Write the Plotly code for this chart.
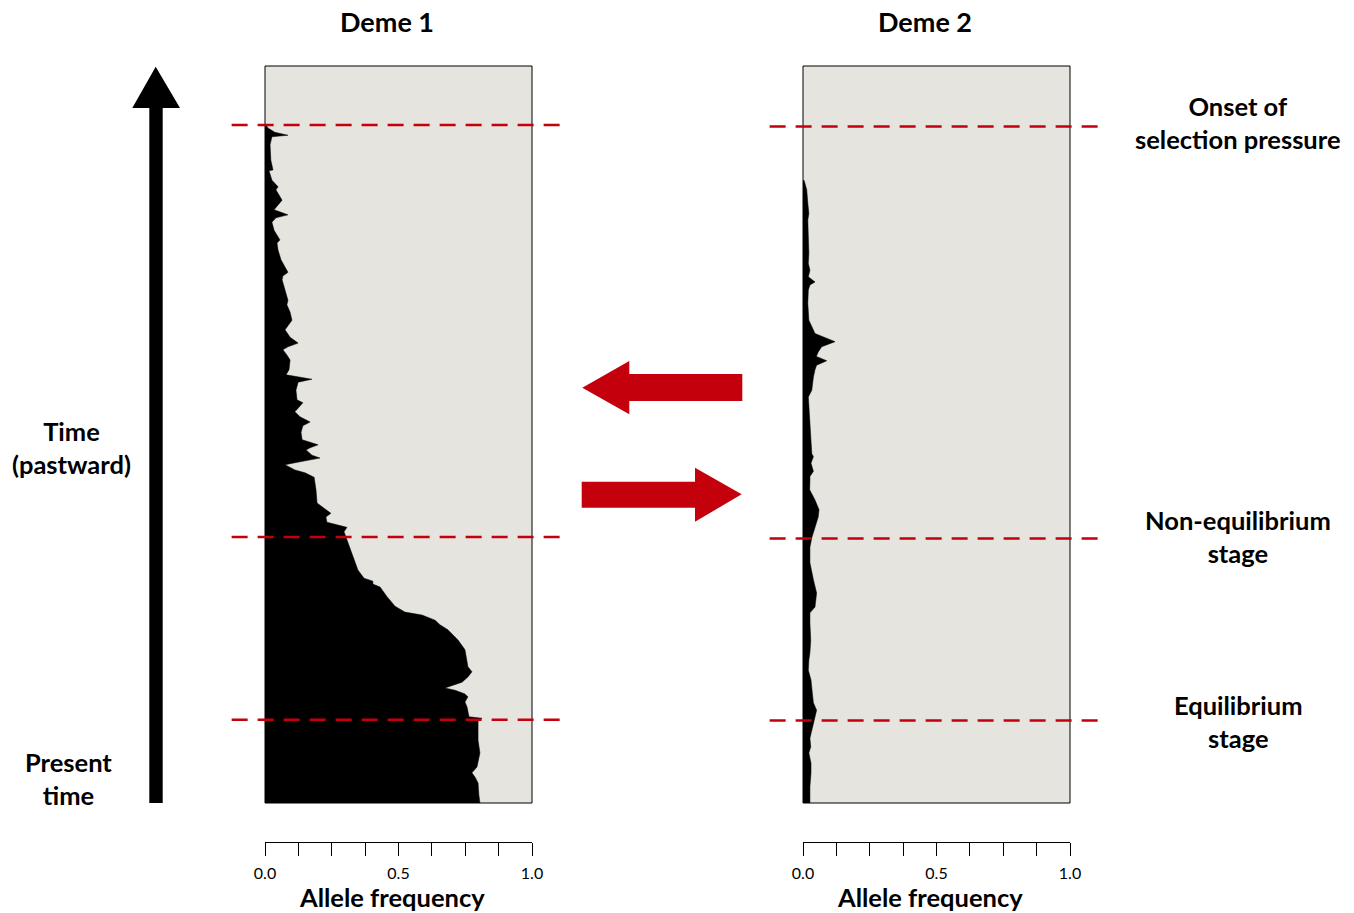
import plotly.graph_objects as go

# ---------------- data (time: 0 = present, 100 = top of panel; frequency 0..1) -------------
deme1_time = [92.0, 91.6, 91.0, 90.6, 90.4, 89.3, 87.2, 85.9, 85.8, 84.5, 83.6, 83.2, 81.8,
              80.7, 80.5, 79.8, 79.4, 78.8, 77.7, 76.4, 76.0, 75.0, 73.7, 72.0, 71.5, 71.0,
              69.6, 68.2, 67.6, 66.6, 65.5, 64.9, 64.2, 63.2, 62.4, 61.9, 61.5, 60.8, 60.1,
              58.8, 58.1, 57.5, 57.1, 56.0, 54.7, 54.3, 53.6, 53.1, 52.4, 51.7, 51.2, 50.3,
              49.3, 48.6, 48.2, 47.9, 47.2, 46.8, 46.3, 45.9, 45.2, 44.8, 44.2, 42.5, 40.7,
              40.2, 39.3, 38.8, 38.1, 37.4, 36.8, 35.3, 33.4, 31.6, 30.5, 30.1, 29.7, 29.3,
              28.0, 26.7, 25.9, 25.5, 24.8, 24.2, 23.5, 22.1, 20.8, 19.4, 18.5, 17.8, 17.1,
              16.4, 15.6, 15.3, 14.8, 14.4, 13.7, 13.0, 11.7, 11.5, 11.1, 8.5, 6.8, 4.9,
              4.1, 3.5, 2.7, 1.1, 0.0]
deme1_freq = [0.004, 0.011, 0.037, 0.086, 0.026, 0.019, 0.022, 0.030, 0.015, 0.026, 0.049, 0.041, 0.064,
              0.037, 0.034, 0.086, 0.041, 0.026, 0.034, 0.056, 0.045, 0.049, 0.060, 0.086, 0.067, 0.064,
              0.075, 0.086, 0.082, 0.094, 0.101, 0.090, 0.075, 0.094, 0.124, 0.086, 0.067, 0.082, 0.094,
              0.090, 0.079, 0.176, 0.124, 0.116, 0.120, 0.142, 0.124, 0.112, 0.131, 0.169, 0.142, 0.135,
              0.139, 0.199, 0.169, 0.154, 0.176, 0.206, 0.131, 0.075, 0.112, 0.150, 0.184, 0.191, 0.195,
              0.213, 0.247, 0.228, 0.232, 0.307, 0.296, 0.311, 0.330, 0.348, 0.371, 0.404, 0.404, 0.431,
              0.457, 0.487, 0.524, 0.588, 0.637, 0.655, 0.685, 0.723, 0.749, 0.757, 0.760, 0.775, 0.760,
              0.738, 0.674, 0.712, 0.749, 0.760, 0.749, 0.757, 0.764, 0.813, 0.798, 0.798, 0.805, 0.794,
              0.775, 0.787, 0.798, 0.801, 0.805]

deme2_time = [84.5, 83.2, 81.4, 80.0, 79.1, 76.8, 74.6, 73.2, 72.3, 71.4, 70.7, 70.3, 69.6,
              67.8, 65.5, 63.7, 62.6, 61.9, 61.2, 60.6, 60.0, 59.4, 58.8, 57.8, 56.0, 55.1,
              52.0, 49.7, 47.4, 47.0, 46.1, 45.0, 44.3, 43.8, 42.5, 41.1, 39.8, 38.8, 37.4,
              36.0, 34.7, 32.6, 30.3, 28.5, 26.6, 25.8, 24.4, 22.1, 20.4, 19.4, 18.0, 16.7,
              14.9, 13.6, 12.6, 11.3, 10.3, 9.5, 8.8, 7.6, 6.8, 5.4, 4.1, 2.2, 0.0]
deme2_freq = [0.004, 0.014, 0.018, 0.022, 0.018, 0.020, 0.022, 0.020, 0.026, 0.020, 0.045, 0.026, 0.020,
              0.018, 0.022, 0.045, 0.120, 0.070, 0.057, 0.050, 0.089, 0.051, 0.045, 0.039, 0.033, 0.020,
              0.026, 0.029, 0.033, 0.039, 0.030, 0.039, 0.026, 0.026, 0.025, 0.045, 0.060, 0.057, 0.045,
              0.033, 0.026, 0.026, 0.039, 0.051, 0.045, 0.026, 0.026, 0.029, 0.026, 0.022, 0.020, 0.030,
              0.035, 0.039, 0.051, 0.042, 0.035, 0.030, 0.026, 0.029, 0.022, 0.030, 0.030, 0.026, 0.026]

deme_names = ["Deme 1", "Deme 2"]
stage_labels = ["Onset of<br>selection pressure", "Non-equilibrium<br>stage", "Equilibrium<br>stage"]
stage_times_deme1 = [92.0, 36.1, 11.3]
stage_times_deme2 = [91.8, 35.9, 11.2]
tick_vals = [0, 0.125, 0.25, 0.375, 0.5, 0.625, 0.75, 0.875, 1.0]
tick_text = ["0.0", "", "", "", "0.5", "", "", "", "1.0"]

# ---------------- layout helpers (page pixels -> paper) ----------------
W, H = 1354, 913
OX, OY = 0, 0


def px(x):
    return (x - OX) / W


def py(y):
    return 1 - (y - OY) / H


FONT = "Lato"
BG = "#e5e4df"
RED = "#c4000c"

fig = go.Figure()

fig.add_trace(go.Scatter(x=deme1_freq, y=deme1_time, mode="lines", fill="tozerox",
                         fillcolor="black", line=dict(color="black", width=0.5),
                         xaxis="x", yaxis="y", showlegend=False, hoverinfo="skip"))
fig.add_trace(go.Scatter(x=deme2_freq, y=deme2_time, mode="lines", fill="tozerox",
                         fillcolor="black", line=dict(color="black", width=0.5),
                         xaxis="x2", yaxis="y2", showlegend=False, hoverinfo="skip"))

panel_x = [(265, 532), (803, 1070)]
ydom = [py(803), py(66)]
axis_pos = py(842)

xcommon = dict(range=[0, 1], anchor="free", position=axis_pos, showline=True, linecolor="black",
               linewidth=1, ticks="outside", ticklen=13, tickwidth=1, tickcolor="black",
               tickvals=tick_vals, ticktext=tick_text, showgrid=False, zeroline=False,
               ticklabelstandoff=4,
               tickfont=dict(family=FONT, size=16, color="black"), automargin=False, fixedrange=True)
ycommon = dict(range=[0, 100], visible=False, showgrid=False, zeroline=False, fixedrange=True)

fig.update_layout(
    xaxis=dict(domain=[px(panel_x[0][0]), px(panel_x[0][1])], **xcommon),
    xaxis2=dict(domain=[px(panel_x[1][0]), px(panel_x[1][1])], **xcommon),
    yaxis=dict(domain=ydom, anchor="x", **ycommon),
    yaxis2=dict(domain=ydom, anchor="x2", **ycommon),
)

shapes = []
annotations = []
for i, (xa, ya) in enumerate([("x", "y"), ("x2", "y2")]):
    # panel border
    shapes.append(dict(type="rect", xref=f"{xa} domain", yref=f"{ya} domain", x0=0, x1=1, y0=0, y1=1,
                       line=dict(color="black", width=1), fillcolor="rgba(0,0,0,0)", layer="above"))
    times = stage_times_deme1 if i == 0 else stage_times_deme2
    for t in times:
        shapes.append(dict(type="line", xref=f"{xa} domain", yref=ya, x0=-0.125, x1=1.13, y0=t, y1=t,
                           line=dict(color=RED, width=2.5, dash="16px,10px"), layer="above"))
    cx = (panel_x[i][0] + panel_x[i][1]) / 2
    annotations.append(dict(text=f"<b>{deme_names[i]}</b>", xref="paper", yref="paper",
                            x=px(cx - 12), y=py(22), showarrow=False, xanchor="center", yanchor="middle",
                            font=dict(family=FONT, size=27, color="black")))
    annotations.append(dict(text="<b>Allele frequency</b>", xref="paper", yref="paper",
                            x=px(cx - 7), y=py(897), showarrow=False, xanchor="center", yanchor="middle",
                            font=dict(family=FONT, size=25.5, color="black")))

# big black time arrow
big = [(149.3, 803), (162.7, 803), (162.7, 108), (180, 108), (155.7, 66.7), (132.3, 108), (149.3, 108)]
# red migration arrows
left_arrow = [(742.3, 374), (629.3, 374), (629.3, 361), (582.3, 387.7), (629.3, 414.3), (629.3, 401), (742.3, 401)]
right_arrow = [(581.7, 481.7), (695, 481.7), (695, 467.7), (741.7, 494.3), (695, 521.7), (695, 507.7), (581.7, 507.7)]


def path(pts):
    return "M " + " L ".join(f"{px(x):.5f},{py(y):.5f}" for x, y in pts) + " Z"


shapes.append(dict(type="path", xref="paper", yref="paper", path=path(big), fillcolor="black",
                   line=dict(width=0)))
for arr in (left_arrow, right_arrow):
    shapes.append(dict(type="path", xref="paper", yref="paper", path=path(arr), fillcolor=RED,
                       line=dict(width=0)))

side_texts = [("Time<br>(pastward)", 71, 447), ("Present<br>time", 68, 778),
              (stage_labels[0], 1238, 123), (stage_labels[1], 1238, 536), (stage_labels[2], 1238, 721)]
for txt, x, y in side_texts:
    annotations.append(dict(text="<b>" + txt.replace("<br>", "</b><br><b>") + "</b>", xref="paper",
                            yref="paper", x=px(x), y=py(y), showarrow=False, xanchor="center",
                            yanchor="middle", align="center",
                            font=dict(family=FONT, size=25.5, color="black")))

fig.update_layout(
    width=W, height=H, margin=dict(l=0, r=0, t=0, b=0, autoexpand=False),
    paper_bgcolor="white", plot_bgcolor=BG, shapes=shapes, annotations=annotations,
    showlegend=False, font=dict(family=FONT, color="black"),
)

fig.write_html("out.html", config={"displayModeBar": False},
               post_script="document.body.style.margin='0';document.body.style.overflow='hidden';")
